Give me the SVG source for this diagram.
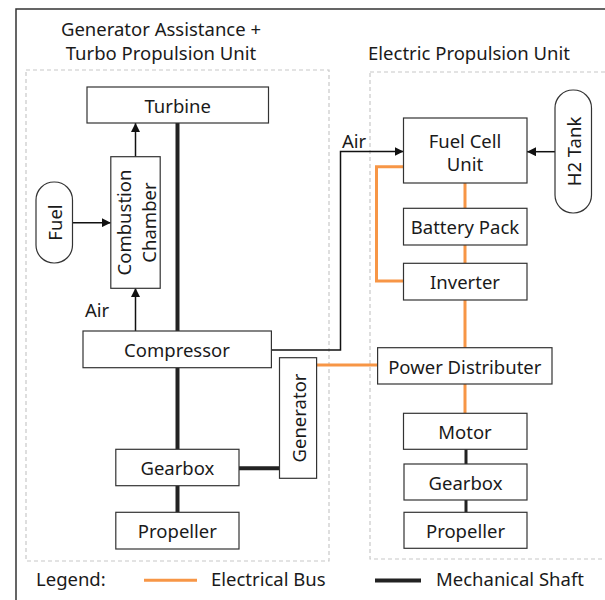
<svg xmlns="http://www.w3.org/2000/svg" width="605" height="600" viewBox="0 0 605 600">
<style>
text{font-family:"Noto Sans","Open Sans","Liberation Sans",sans-serif;font-size:18.5px;fill:#1a1a1a}
.c{text-anchor:middle;dominant-baseline:central}
.box{fill:#fff;stroke:#333;stroke-width:1.2}
.grp{fill:none;stroke:#c8c8c8;stroke-width:1.2;stroke-dasharray:4,3}
.sh{stroke:#222;stroke-width:4;fill:none}
.sh2{stroke:#222;stroke-width:3;fill:none}
.el{stroke:#f79646;stroke-width:3;fill:none}
.ar{stroke:#111;stroke-width:1.5;fill:none}
</style>
<defs>
<marker id="ah" viewBox="0 0 10 10" refX="10" refY="5" markerWidth="9" markerHeight="9" markerUnits="userSpaceOnUse" orient="auto">
<path d="M0,0 L10,5 L0,10 z" fill="#111"/>
</marker>
</defs>
<rect width="605" height="600" fill="#fff"/>
<path d="M16,600 V9 H605" fill="none" stroke="#333" stroke-width="1.5"/>
<rect class="grp" x="26" y="70" width="303" height="491"/>
<rect class="grp" x="370" y="72" width="240" height="487"/>
<text class="c" x="161" y="28">Generator Assistance +</text>
<text class="c" x="161" y="52">Turbo Propulsion Unit</text>
<text class="c" x="469" y="52">Electric Propulsion Unit</text>
<g id="connectors">
<path class="sh" d="M177.5,123 V331 M177.5,368 V449 M177.5,486 V512 M239,468.3 H279.5"/>
<path class="sh2" d="M466,449 V464 M466,500 V512"/>
<path class="el" d="M465,183 V208 M465,245 V263 M465,300 V348 M465,384 V413 M403,166.7 H376.5 V281 H403 M316.6,365 H377.6"/>
<path class="ar" d="M135.5,157 V123" marker-end="url(#ah)"/>
<path class="ar" d="M135.5,331 V288" marker-end="url(#ah)"/>
<path class="ar" d="M72.5,222.7 H110.8" marker-end="url(#ah)"/>
<path class="ar" d="M555,151.7 H527" marker-end="url(#ah)"/>
<path class="ar" d="M271.4,350 H340.5 V151.5 H403.5" marker-end="url(#ah)"/>
<text x="342" y="148">Air</text>
<text x="85" y="317">Air</text>
</g>
<g id="turbine"><rect class="box" x="87" y="87" width="181.5" height="36"/><text class="c" x="177.7" y="105">Turbine</text></g>
<g id="combustion"><rect class="box" x="110.8" y="156.7" width="49.4" height="131.6"/><text class="c" transform="rotate(-90 135.5 222.5)" x="135.5" y="210.5">Combustion</text><text class="c" transform="rotate(-90 135.5 222.5)" x="135.5" y="235">Chamber</text></g>
<g id="fuel"><rect class="box" x="36" y="182" width="36.5" height="81" rx="18" ry="18"/><text class="c" transform="rotate(-90 54.3 222.5)" x="54.3" y="222.5">Fuel</text></g>
<g id="compressor"><rect class="box" x="83" y="331" width="188.4" height="36.7"/><text class="c" x="177" y="349.3">Compressor</text></g>
<g id="generator"><rect class="box" x="279.5" y="357.7" width="37.1" height="120.6"/><text class="c" transform="rotate(-90 298 418)" x="298" y="418">Generator</text></g>
<g id="gearbox-l"><rect class="box" x="115.8" y="449.3" width="123.2" height="36.4"/><text class="c" x="177.4" y="467.5">Gearbox</text></g>
<g id="propeller-l"><rect class="box" x="115.8" y="512.3" width="123.2" height="36.7"/><text class="c" x="177.4" y="530.7">Propeller</text></g>
<g id="fuelcell"><rect class="box" x="403.5" y="118" width="123.5" height="65"/><text class="c" x="465" y="140">Fuel Cell</text><text class="c" x="465" y="163">Unit</text></g>
<g id="h2tank"><rect class="box" x="555" y="90" width="36.5" height="123" rx="18" ry="18"/><text class="c" transform="rotate(-90 573.2 151.5)" x="573.2" y="151.5">H2 Tank</text></g>
<g id="battery"><rect class="box" x="403.5" y="208.3" width="123.5" height="36.7"/><text class="c" x="465" y="226.7">Battery Pack</text></g>
<g id="inverter"><rect class="box" x="403.5" y="263.3" width="123.5" height="36.7"/><text class="c" x="465" y="281.7">Inverter</text></g>
<g id="distributer"><rect class="box" x="377.6" y="347.7" width="174.4" height="36.3"/><text class="c" x="464.8" y="366">Power Distributer</text></g>
<g id="motor"><rect class="box" x="403.5" y="413.3" width="123.5" height="36"/><text class="c" x="465" y="431.3">Motor</text></g>
<g id="gearbox-r"><rect class="box" x="404" y="464" width="123" height="36"/><text class="c" x="465.5" y="482">Gearbox</text></g>
<g id="propeller-r"><rect class="box" x="404" y="512.3" width="123" height="36"/><text class="c" x="465.5" y="530.3">Propeller</text></g>
<g id="legend">
<text x="36" y="586">Legend:</text>
<line x1="144" y1="580.3" x2="197" y2="580.3" class="el"/>
<text x="211" y="586">Electrical Bus</text>
<line x1="375" y1="580.5" x2="421" y2="580.5" class="sh"/>
<text x="436" y="586">Mechanical Shaft</text>
</g>
</svg>
